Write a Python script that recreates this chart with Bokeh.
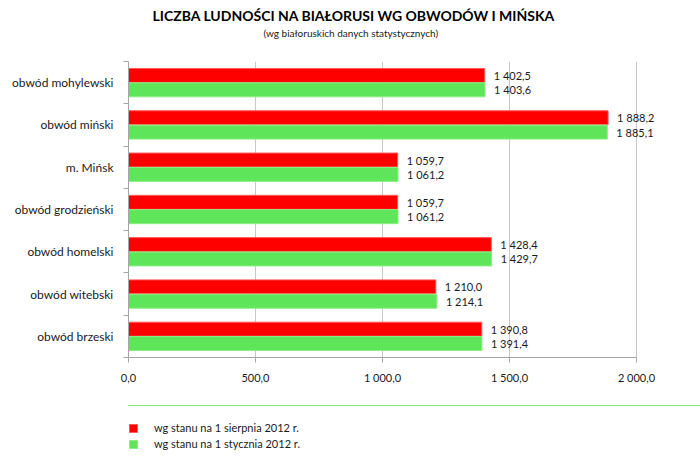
from bokeh.plotting import figure
from bokeh.layouts import column
from bokeh.models import (ColumnDataSource, FixedTicker, Label, Legend, LegendItem, Range1d)
from bokeh.embed import file_html
from bokeh.resources import INLINE

title_text = "LICZBA LUDNOŚCI NA BIAŁORUSI WG OBWODÓW I MIŃSKA"
subtitle_text = "(wg białoruskich danych statystycznych)"
categories = ["obwód mohylewski", "obwód miński", "m. Mińsk", "obwód grodzieński",
              "obwód homelski", "obwód witebski", "obwód brzeski"]
aug_2012 = [1402.5, 1888.2, 1059.7, 1059.7, 1428.4, 1210.0, 1390.8]
jan_2012 = [1403.6, 1885.1, 1061.2, 1061.2, 1429.7, 1214.1, 1391.4]
series_names = ["wg stanu na 1 sierpnia 2012 r.", "wg stanu na 1 stycznia 2012 r."]
x_ticks = [0, 500, 1000, 1500, 2000]

FONT = "Lato"
RED = "#FF0000"
GREEN = "#5FE55A"
n = len(categories)


def fmt(v):
    return f"{v:,.1f}".replace(",", " ").replace(".", ",")


def strip(h):
    f = figure(width=700, height=h, output_backend="svg", toolbar_location=None,
               x_range=Range1d(0, 1), y_range=Range1d(-3, -2), x_axis_type=None, y_axis_type=None,
               min_border=0, title=None)
    f.outline_line_color = None
    f.xgrid.grid_line_color = None
    f.ygrid.grid_line_color = None
    return f


centers = [n - 1 - i + 0.5 for i in range(n)]
off = 0.17
src_a = ColumnDataSource(dict(y=[c + off for c in centers], v=aug_2012, lab=[fmt(v) for v in aug_2012]))
src_j = ColumnDataSource(dict(y=[c - off for c in centers], v=jan_2012, lab=[fmt(v) for v in jan_2012]))

# header strip with titles
head = strip(61)
head.add_layout(Label(x=24, y=46, x_units="screen", y_units="screen", text=title_text,
                      text_font=FONT, text_font_size="14px", text_font_style="bold",
                      text_color="#000000", text_align="left", text_baseline="middle"))
head.add_layout(Label(x=135, y=29, x_units="screen", y_units="screen", text=subtitle_text,
                      text_font=FONT, text_font_size="10px", text_color="#1a1a1a",
                      text_align="left", text_baseline="middle"))

p = figure(width=700, height=344, output_backend="svg", toolbar_location=None,
           x_range=Range1d(0, 2252), y_range=Range1d(0, n),
           min_border_left=128, min_border_right=0, min_border_bottom=48, min_border_top=0,
           title=None)
p.outline_line_color = None
p.background_fill_color = "white"

p.hbar(y="y", right="v", left=0, height=0.33, source=src_a, fill_color=RED,
       line_color="#FF5A5A", line_width=1)
p.hbar(y="y", right="v", left=0, height=0.33, source=src_j, fill_color=GREEN,
       line_color="#8AEE84", line_width=1)

for s in (src_a, src_j):
    p.text(x="v", y="y", text="lab", source=s, x_offset=9, text_baseline="middle",
           text_align="left", text_font_size="11px", text_color="#1a1a1a",
           text_font={"value": FONT})

# axes
p.xaxis.bounds = (0, 2000)
p.xaxis.ticker = FixedTicker(ticks=x_ticks)
p.xaxis.major_label_overrides = {t: fmt(t) for t in x_ticks}
p.xaxis.major_label_text_font = FONT
p.xaxis.major_label_text_font_size = "11px"
p.xaxis.major_label_text_color = "#1a1a1a"
p.xaxis.axis_line_color = "#A6A6A6"
p.xaxis.major_tick_line_color = "#A6A6A6"
p.xaxis.major_tick_out = 5
p.xaxis.major_tick_in = 0
p.xaxis.minor_tick_line_color = None
p.xaxis.major_label_standoff = 8

p.yaxis.ticker = FixedTicker(ticks=centers, minor_ticks=list(range(n + 1)))
p.yaxis.major_label_overrides = {c: cat for c, cat in zip(centers, categories)}
p.yaxis.major_label_text_font = FONT
p.yaxis.major_label_text_font_size = "12px"
p.yaxis.major_label_text_color = "#1a1a1a"
p.yaxis.axis_line_color = "#A6A6A6"
p.yaxis.major_tick_line_color = None
p.yaxis.major_tick_out = 0
p.yaxis.major_tick_in = 0
p.yaxis.minor_tick_line_color = "#A6A6A6"
p.yaxis.minor_tick_out = 5
p.yaxis.minor_tick_in = 0
p.yaxis.major_label_standoff = 10

p.xgrid.ticker = FixedTicker(ticks=x_ticks)
p.xgrid.bounds = (0, 2000)
p.xgrid.grid_line_color = "#C8C8C8"
p.ygrid.grid_line_color = None

# legend strip (its renderers share the series data, drawn outside the strip's view)
q = strip(55)
la = q.hbar(y="y", right="v", left=0, height=0.33, source=src_a, fill_color=RED, line_color="#FF5A5A")
lj = q.hbar(y="y", right="v", left=0, height=0.33, source=src_j, fill_color=GREEN, line_color="#8AEE84")
legend = Legend(items=[LegendItem(label=series_names[0], renderers=[la]),
                       LegendItem(label=series_names[1], renderers=[lj])],
                location=(0, 10), orientation="vertical",
                border_line_color=None, background_fill_alpha=0,
                padding=0, margin=0, spacing=3, glyph_width=10, glyph_height=10,
                label_standoff=16, label_text_font=FONT, label_text_font_size="11px",
                label_height=10, label_text_color="#1a1a1a")
q.add_layout(legend, "center")

open("out.html", "w").write(file_html(column(head, p, q, spacing=0), INLINE))
